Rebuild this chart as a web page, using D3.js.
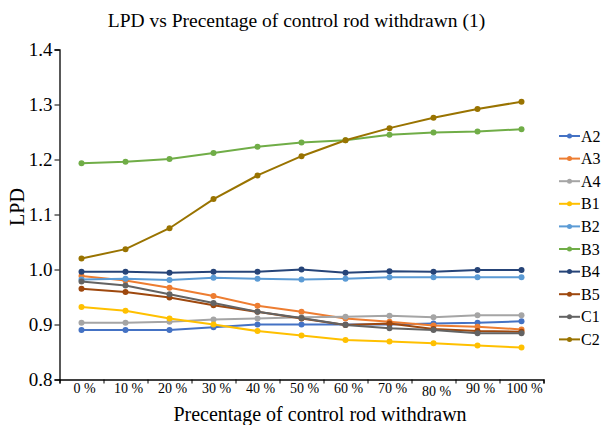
<!DOCTYPE html>
<html>
<head>
<meta charset="utf-8">
<script src="https://cdn.jsdelivr.net/npm/d3@7"></script>
<style>
  body { margin: 0; background: #fff; }
  svg text { font-family: "Liberation Serif", "Times New Roman", serif; }
</style>
</head>
<body>
<svg id="chart"></svg>
<script>
// categories along the x axis
const categories = ['0 %', '10 %', '20 %', '30 %', '40 %', '50 %', '60 %', '70 %', '80 %', '90 %', '100 %'];

// LPD per rod position
const A2 = [0.890, 0.890, 0.890, 0.895, 0.900, 0.900, 0.900, 0.900, 0.902, 0.903, 0.906];
const A3 = [0.988, 0.980, 0.967, 0.952, 0.934, 0.923, 0.911, 0.905, 0.898, 0.896, 0.891];
const A4 = [0.903, 0.903, 0.905, 0.909, 0.911, 0.913, 0.914, 0.916, 0.913, 0.917, 0.917];
const B1 = [0.932, 0.925, 0.911, 0.900, 0.888, 0.880, 0.872, 0.869, 0.866, 0.862, 0.858];
const B2 = [0.982, 0.983, 0.981, 0.985, 0.983, 0.982, 0.983, 0.986, 0.986, 0.986, 0.986];
const B3 = [1.193, 1.196, 1.201, 1.212, 1.223, 1.231, 1.235, 1.245, 1.249, 1.251, 1.255];
const B4 = [0.996, 0.996, 0.994, 0.996, 0.996, 1.000, 0.994, 0.997, 0.996, 0.999, 0.999];
const B5 = [0.965, 0.959, 0.949, 0.935, 0.923, 0.911, 0.899, 0.902, 0.892, 0.888, 0.887];
const C1 = [0.978, 0.971, 0.955, 0.939, 0.923, 0.912, 0.899, 0.893, 0.890, 0.884, 0.884];
const C2 = [1.020, 1.037, 1.075, 1.128, 1.171, 1.206, 1.235, 1.257, 1.276, 1.292, 1.305];

const seriesNames = ['A2', 'A3', 'A4', 'B1', 'B2', 'B3', 'B4', 'B5', 'C1', 'C2'];
const seriesValues = [A2, A3, A4, B1, B2, B3, B4, B5, C1, C2];
const seriesColors = ['#4472C4', '#ED7D31', '#A5A5A5', '#FFC000', '#5B9BD5',
                      '#70AD47', '#264478', '#9E480E', '#636363', '#997300'];

const yTicks = [0.8, 0.9, 1.0, 1.1, 1.2, 1.3, 1.4];

const series = seriesNames.map((name, i) => ({
  name: name,
  color: seriesColors[i],
  values: seriesValues[i].map((v, j) => ({cat: categories[j], v: v}))
}));

const width = 603, height = 425;
const margin = {top: 49.5, right: 59.5, bottom: 45.5, left: 59.5};
const innerW = width - margin.left - margin.right;
const innerH = height - margin.top - margin.bottom;

const svg = d3.select('#chart')
    .attr('width', width)
    .attr('height', height);

const chart = svg.append('g')
    .attr('transform', `translate(${margin.left},${margin.top})`);

// Scales
const xScale = d3.scaleBand()
    .domain(categories)
    .range([0, innerW])
    .padding(0);

const xEdges = d3.scaleLinear()
    .domain([0, categories.length])
    .range([0, innerW]);

const yScale = d3.scaleLinear()
    .domain([0.8, 1.4])
    .range([innerH, 0]);

// y axis
const yAxisG = chart.append('g')
    .attr('class', 'axis y-axis')
    .call(d3.axisLeft(yScale).tickValues(yTicks).tickFormat(d3.format('.1f')).tickSize(5).tickPadding(2));
yAxisG.select('.domain').attr('stroke', '#000').attr('stroke-width', 1.3);
yAxisG.selectAll('.tick line').attr('stroke', '#000');
yAxisG.selectAll('.tick text')
    .attr('font-size', 19)
    .attr('fill', '#000');

// x axis: ticks on band edges, labels at band centres
const xAxisG = chart.append('g')
    .attr('class', 'axis x-axis')
    .attr('transform', `translate(0,${innerH})`)
    .call(d3.axisBottom(xEdges).ticks(categories.length).tickFormat('').tickSize(4).tickSizeOuter(4));
xAxisG.select('.domain').attr('stroke', '#000').attr('stroke-width', 1.3);
xAxisG.selectAll('.tick line').attr('stroke', '#000');

const xLabelG = chart.append('g')
    .attr('transform', `translate(0,${innerH})`)
    .call(d3.axisBottom(xScale).tickSize(0).tickPadding(0));
xLabelG.select('.domain').remove();
xLabelG.selectAll('.tick text')
    .attr('font-size', 14)
    .attr('fill', '#000')
    .attr('dx', 3)
    .attr('y', 13)
    .attr('dy', d => d === '80 %' ? 3 : 0);

// lines
const line = d3.line()
    .x(d => xScale(d.cat) + xScale.bandwidth() / 2)
    .y(d => yScale(d.v));

const seriesG = chart.selectAll('.series')
    .data(series)
    .join('g')
    .attr('class', 'series');

seriesG.append('path')
    .attr('d', d => line(d.values))
    .attr('fill', 'none')
    .attr('stroke', d => d.color)
    .attr('stroke-width', 2);

seriesG.selectAll('.point')
    .data(d => d.values.map(p => ({...p, color: d.color})))
    .join('circle')
    .attr('class', 'point')
    .attr('r', 3)
    .attr('cx', d => xScale(d.cat) + xScale.bandwidth() / 2)
    .attr('cy', d => yScale(d.v))
    .attr('fill', d => d.color);

// legend
const legend = svg.append('g')
    .attr('transform', 'translate(559,136)');

const items = legend.selectAll('.item')
    .data(series)
    .join('g')
    .attr('class', 'item')
    .attr('transform', (d, i) => `translate(0,${i * 22.6})`);

items.append('line')
    .attr('x1', 0).attr('x2', 21)
    .attr('stroke', d => d.color)
    .attr('stroke-width', 2);
items.append('circle')
    .attr('cx', 10.5)
    .attr('r', 2.5)
    .attr('fill', d => d.color);
items.append('text')
    .attr('x', 22)
    .attr('y', 5.5)
    .attr('font-size', 16)
    .attr('fill', '#000')
    .text(d => d.name);

// titles
svg.append('text')
    .attr('x', 296.5)
    .attr('y', 27)
    .attr('text-anchor', 'middle')
    .attr('font-size', 19.5)
    .attr('fill', '#000')
    .text('LPD vs Precentage of control rod withdrawn (1)');

svg.append('text')
    .attr('x', 320)
    .attr('y', 420.5)
    .attr('text-anchor', 'middle')
    .attr('font-size', 20)
    .attr('fill', '#000')
    .text('Precentage of control rod withdrawn');

svg.append('text')
    .attr('transform', 'translate(24,207) rotate(-90)')
    .attr('text-anchor', 'middle')
    .attr('font-size', 20)
    .attr('fill', '#000')
    .text('LPD');
</script>
</body>
</html>
